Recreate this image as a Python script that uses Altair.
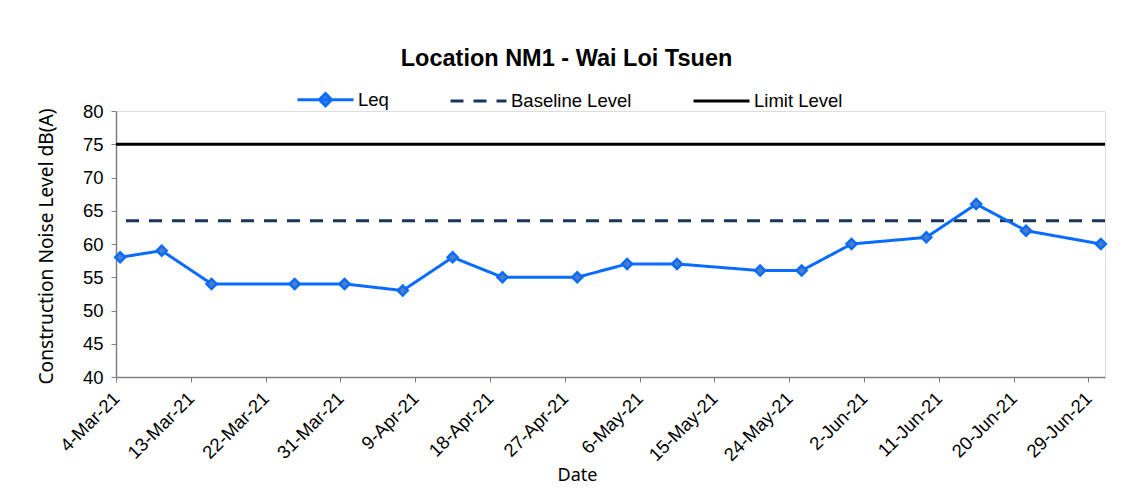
import altair as alt
import pandas as pd

# ---- data ----
dates = ["2021-03-04", "2021-03-09", "2021-03-15", "2021-03-25", "2021-03-31",
         "2021-04-07", "2021-04-13", "2021-04-19", "2021-04-28", "2021-05-04",
         "2021-05-10", "2021-05-20", "2021-05-25", "2021-05-31", "2021-06-09",
         "2021-06-15", "2021-06-21", "2021-06-30"]
leq = [58, 59, 54, 54, 54, 53, 58, 55, 55, 57, 57, 56, 56, 60, 61, 66, 62, 60]
series_names = ["Leq", "Baseline Level", "Limit Level"]
baseline_level = 63.5
limit_level = 75
tick_dates = ["2021-03-04", "2021-03-13", "2021-03-22", "2021-03-31", "2021-04-09",
              "2021-04-18", "2021-04-27", "2021-05-06", "2021-05-15", "2021-05-24",
              "2021-06-02", "2021-06-11", "2021-06-20", "2021-06-29"]
x_domain = ["2021-03-04", "2021-07-01"]
y_ticks = [40, 45, 50, 55, 60, 65, 70, 75, 80]

# ---- styling ----
BLUE = "#0a6cff"
MARKER_FILL = "#4f7fbf"
NAVY = "#17365d"
BLACK = "#000000"
SANS = "Liberation Sans"
ALT_FONT = "Noto Sans"


def to_dt(s):
    y, m, d = (int(v) for v in s.split("-"))
    return alt.DateTime(year=y, month=m, date=d, utc=True)


df_leq = pd.DataFrame({"date": dates, "value": leq, "series": "Leq"})
df_rules = pd.DataFrame({"series": series_names[1:], "value": [baseline_level, limit_level]})
df_legend = pd.DataFrame({"series": series_names})

legend = alt.Legend(
    title=None, orient="none", direction="horizontal", columns=3,
    legendX=180, legendY=-41,
    labelFont=SANS, labelFontSize=18.5, labelColor=BLACK, labelOffset=3,
    columnPadding=55, symbolSize=3136, symbolStrokeWidth=3,
    symbolFillColor=MARKER_FILL, symbolOpacity=1,
)

color = alt.Color("series:N", scale=alt.Scale(domain=series_names, range=[BLUE, NAVY, BLACK]),
                  legend=legend)
dash = alt.StrokeDash("series:N",
                      scale=alt.Scale(domain=series_names, range=[[1, 0], [13, 10], [1, 0]]),
                      legend=legend)
leq_symbol = "M-1,0H1M0,-0.22L0.22,0L0,0.22L-0.22,0Z"
shape = alt.Shape("series:N",
                  scale=alt.Scale(domain=series_names, range=[leq_symbol, "stroke", "stroke"]),
                  legend=legend)

x_enc = alt.X(
    "utcyearmonthdate(date):T", bandPosition=0.5,
    scale=alt.Scale(domain=[to_dt(d) for d in x_domain]),
    axis=alt.Axis(
        title="Date", values=[to_dt(d) for d in tick_dates],
        labelExpr="utcFormat(datum.value, '%-d-%b-%y')",
        labelAngle=-45, labelAlign="right", labelBaseline="middle",
        labelFont=SANS, labelFontSize=18.5, labelColor=BLACK, labelPadding=13,
        tickSize=5, tickColor="#808080", domainColor="#808080", domainWidth=1.5,
        grid=False, labelOverlap=False,
        titleFont=ALT_FONT, titleFontSize=18, titleFontWeight="normal", titleColor=BLACK,
        titleX=461, titleY=103, titleBaseline="alphabetic",
    ),
)
y_axis = alt.Axis(
    title="Construction Noise Level  dB(A)", values=y_ticks,
    labelFont=SANS, labelFontSize=18.5, labelColor=BLACK, labelPadding=8,
    tickSize=5, tickColor="#808080", domainColor="#808080", domainWidth=1.5,
    grid=False,
    titleFont=ALT_FONT, titleFontSize=19.2, titleFontWeight="normal", titleColor=BLACK,
    titleX=-70, titleY=135, titleAngle=-90, titleAlign="center", titleBaseline="middle",
)
y_scale = alt.Scale(domain=[40, 80], nice=False, zero=False)

rules = alt.Chart(df_rules).mark_rule(strokeWidth=3).encode(
    y=alt.Y("value:Q", scale=y_scale, axis=y_axis),
    color=color, strokeDash=dash,
)
line = alt.Chart(df_leq).mark_line(strokeWidth=3).encode(
    x=x_enc, y=alt.Y("value:Q", scale=y_scale, axis=y_axis),
    color=color, strokeDash=dash,
)
points = alt.Chart(df_leq).mark_point(
    shape="diamond", size=100, strokeWidth=2.5, fill=MARKER_FILL, fillOpacity=1, opacity=1
).encode(
    x=x_enc, y=alt.Y("value:Q", scale=y_scale, axis=y_axis),
    color=alt.Color("series:N", scale=alt.Scale(domain=series_names, range=[BLUE, NAVY, BLACK]),
                    legend=legend),
)
legend_helper = alt.Chart(df_legend).mark_point(size=0, strokeWidth=0, opacity=1).encode(
    color=color, strokeDash=dash, shape=shape,
)

chart = alt.layer(rules, line, points, legend_helper).properties(
    width=989, height=266,
    title=alt.TitleParams(
        "Location NM1 - Wai Loi Tsuen", font=SANS, fontSize=23.5, fontWeight="bold",
        color=BLACK, anchor="middle", dx=-44, offset=0,
    ),
    autosize=alt.AutoSizeParams(type="none"),
    padding={"left": 108, "top": 103, "right": 13, "bottom": 110},
).configure_view(stroke=None).configure(background="white")

chart.save("out.html", embed_options={"renderer": "svg", "actions": False})
